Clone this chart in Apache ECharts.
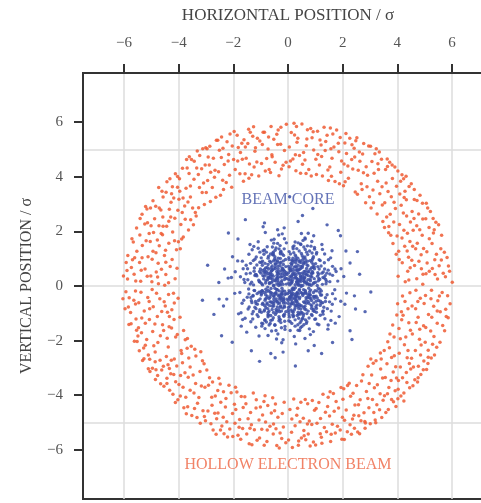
<!DOCTYPE html>
<html>
<head>
<meta charset="utf-8">
<script src="https://cdn.jsdelivr.net/npm/echarts@6/dist/echarts.min.js"></script>
<style>html,body{margin:0;padding:0;background:#fff}#c{width:481px;height:503px}</style>
</head>
<body>
<div id="c"></div>
<script>
// tick values
const xTicks = [-6, -4, -2, 0, 2, 4, 6];
const yTicks = [-6, -4, -2, 0, 2, 4, 6];
const xGridValues = [-6, -4, -2, 0, 2, 4, 6];
const yGridValues = [-5, 0, 5];
const labelTexts = ['BEAM CORE', 'HOLLOW ELECTRON BEAM'];

// hollow electron beam particles (x, y pairs, in sigma)
const hollowXY = [
0.04,4.37,0.12,5.62,0.27,4.81,0.33,5.26,0.46,4.13,0.18,4.65,0.31,5.84,0.05,5.09,0.24,5.53,0.42,4.78,0.29,4.22,
0.07,-4.52,0.13,-5.36,0.21,-4.14,0.38,-5.83,0.44,-4.97,0.16,-5.91,0.35,-4.48,0.02,-5.64,0.26,-5.12,0.49,-5.57,0.32,-4.73,
0.53,4.46,0.67,5.14,0.71,5.72,0.85,4.03,0.94,4.98,0.62,4.61,0.88,5.43,0.51,5.93,0.76,4.27,0.92,5.65,0.69,5.38,
0.56,-4.84,0.63,-4.16,0.74,-5.42,0.81,-5.86,0.97,-4.55,0.58,-5.29,0.72,-4.31,0.87,-5.07,0.93,-5.71,0.65,-5.63,0.78,-4.94,
1.04,4.08,1.17,5.35,1.23,4.74,1.32,5.81,1.46,4.25,1.08,5.67,1.21,5.16,1.43,5.52,1.15,4.43,1.36,4.96,1.02,4.64,1.48,3.86,
1.06,-5.03,1.13,-4.27,1.24,-5.76,1.37,-4.62,1.41,-5.34,1.01,-5.82,1.28,-3.96,1.33,-5.18,1.19,-4.85,1.45,-4.41,1.22,-5.54,
1.53,4.36,1.64,5.57,1.72,3.83,1.86,4.92,1.91,5.44,1.57,5.03,1.78,5.71,1.93,4.17,1.61,4.68,1.84,5.23,1.55,5.79,1.88,3.74,
1.52,-4.76,1.66,-3.94,1.73,-5.38,1.85,-4.47,1.97,-5.61,1.58,-5.43,1.62,-5.06,1.81,-5.14,1.94,-3.72,1.76,-4.23,1.54,-3.87,1.99,-4.81,
2.03,3.67,2.14,4.85,2.26,5.41,2.37,4.28,2.42,5.04,2.08,5.24,2.21,3.95,2.46,3.44,2.12,5.58,2.33,4.63,2.05,4.47,2.48,5.32,
2.01,-4.15,2.17,-5.34,2.24,-3.56,2.36,-4.87,2.43,-5.21,2.06,-5.62,2.13,-4.54,2.38,-3.93,2.45,-4.36,2.27,-5.08,2.04,-3.76,2.32,-5.43,2.18,-3.64,
2.54,3.36,2.63,4.57,2.77,5.22,2.84,3.05,2.91,4.06,2.52,5.43,2.68,3.74,2.73,4.83,2.86,4.37,2.95,5.13,2.57,4.24,2.71,3.53,2.98,3.27,
2.51,-3.64,2.67,-4.93,2.74,-3.25,2.82,-5.21,2.96,-4.46,2.55,-5.35,2.64,-4.17,2.78,-4.64,2.87,-3.86,2.93,-2.94,2.59,-4.75,2.62,-5.41,2.81,-4.96,2.97,-3.57,
3.04,2.86,3.15,4.13,3.23,5.03,3.36,3.38,3.42,4.64,3.07,4.56,3.13,3.05,3.28,3.84,3.34,4.91,3.47,2.36,3.02,5.12,3.26,2.64,3.31,4.27,3.44,3.63,3.18,4.84,
3.06,-3.26,3.14,-4.63,3.22,-2.74,3.37,-3.95,3.43,-4.82,3.01,-5.04,3.16,-3.73,3.25,-4.35,3.38,-2.45,3.46,-3.37,3.09,-4.16,3.21,-5.01,3.35,-4.53,3.41,-2.67,3.12,-2.83,
3.53,2.14,3.66,3.46,3.72,4.53,3.84,1.56,3.93,2.84,3.57,4.27,3.61,2.53,3.76,1.86,3.82,3.94,3.96,1.16,3.54,3.05,3.63,4.65,3.78,3.27,3.87,2.34,3.91,4.36,3.68,1.95,3.81,4.43,3.97,3.65,3.74,2.63,
3.52,-2.36,3.64,-3.95,3.73,-1.76,3.86,-4.24,3.94,-2.96,3.58,-4.63,3.62,-2.85,3.77,-3.46,3.83,-1.43,3.92,-3.84,3.56,-3.35,3.67,-4.52,3.71,-2.26,3.85,-3.15,3.98,-1.06,3.65,-2.04,3.89,-2.55,3.95,-4.41,3.79,-4.16,
4.03,0.36,4.16,-1.24,4.22,2.67,4.35,-3.53,4.41,1.05,4.07,-2.46,4.12,3.84,4.28,-0.57,4.37,1.93,4.44,-2.84,
4.02,4.21,4.18,0.85,4.24,-3.92,4.33,3.16,4.46,-0.25,4.06,-1.56,4.13,-4.03,4.27,1.46,4.31,-1.87,4.43,3.64,
4.08,2.25,4.11,-2.97,4.23,3.93,4.38,0.54,4.45,-3.73,4.04,-3.46,4.17,1.76,4.26,-2.15,4.32,4.02,4.48,2.34,
4.01,-0.65,4.14,2.96,4.29,0.16,4.36,-2.63,4.42,-1.35,4.09,3.37,4.15,-0.94,4.21,-1.07,4.34,2.56,4.47,0.67,
4.05,1.27,4.19,-3.36,4.25,3.24,4.39,-0.83,4.49,-3.04,4.02,-4.13,4.24,-4.21,
4.53,0.94,4.66,-2.36,4.72,3.13,4.84,-0.45,4.91,1.86,4.57,-3.65,4.61,2.47,4.76,-1.14,4.83,3.32,4.97,-2.75,
4.51,3.74,4.68,-0.16,4.73,1.57,4.86,-3.24,4.94,0.43,4.55,-1.76,4.62,3.53,4.77,-2.94,4.82,2.06,4.96,-1.46,
4.58,2.04,4.64,-3.43,4.71,0.27,4.87,1.14,4.92,3.03,4.54,-0.73,4.67,1.36,4.74,-3.52,4.81,-1.95,4.98,-0.64,
4.52,-2.65,4.63,0.75,4.78,2.64,4.85,-2.53,4.93,2.45,4.56,1.46,4.69,-1.34,4.75,-0.57,4.88,0.63,4.95,-3.07,
5.03,-0.35,5.16,2.14,5.22,-1.65,5.37,0.96,5.44,-2.24,5.06,3.03,5.12,-2.84,5.27,1.56,5.33,-0.74,5.41,2.33,
5.08,1.25,5.14,-1.04,5.21,2.73,5.36,-2.53,5.47,0.26,5.02,-2.06,5.17,0.54,5.25,-0.16,5.32,1.94,5.46,-1.36,
5.04,2.46,5.13,-2.35,5.28,0.64,5.34,-1.85,5.43,1.16,5.07,-3.06,5.11,2.86,5.24,-2.64,5.31,2.47,5.48,-0.54,
5.05,0.45,5.26,-1.14,
5.53,0.74,5.66,-1.45,5.72,1.24,5.84,-0.36,5.91,0.54,5.56,-2.06,5.62,1.86,5.77,-0.85,5.82,1.04,5.51,2.24,
5.64,-0.24,5.73,-1.64,5.86,-1.16,5.93,-0.65,5.57,-0.94,5.61,0.95,5.76,0.34,6.01,0.14,
-0.13,4.96,-0.24,4.28,-0.36,5.71,-0.47,4.53,-0.52,5.37,-0.06,5.92,-0.27,5.19,-0.33,4.04,-0.41,5.56,-0.58,4.73,-0.18,4.42,
-0.14,-4.26,-0.23,-5.58,-0.37,-4.81,-0.44,-5.23,-0.56,-4.09,-0.08,-5.74,-0.21,-4.67,-0.32,-5.93,-0.46,-4.32,-0.53,-5.05,-0.29,-5.38,
-0.64,4.16,-0.73,5.02,-0.86,5.63,-0.97,4.49,-1.03,5.31,-0.62,5.84,-0.78,4.67,-0.83,4.21,-0.94,5.18,-1.07,4.03,-0.71,5.46,
-0.66,-5.14,-0.74,-4.38,-0.87,-5.83,-0.93,-4.72,-1.04,-5.57,-0.61,-4.65,-0.77,-5.69,-0.84,-4.02,-0.96,-5.25,-1.01,-4.43,-0.82,-4.98,
-1.14,4.54,-1.26,5.83,-1.33,4.07,-1.47,5.22,-1.53,4.68,-1.12,5.41,-1.24,4.36,-1.38,5.63,-1.43,3.95,-1.56,5.09,-1.21,4.93,-1.44,5.74,
-1.16,-4.17,-1.23,-5.26,-1.37,-4.63,-1.42,-5.78,-1.54,-4.31,-1.13,-5.65,-1.27,-3.92,-1.34,-5.08,-1.46,-4.86,-1.51,-5.42,-1.32,-5.81,
-1.63,3.84,-1.74,4.89,-1.86,5.52,-1.93,4.27,-2.04,5.13,-1.61,5.36,-1.76,4.11,-1.84,4.58,-1.97,5.66,-2.06,3.62,-1.67,4.64,-1.82,5.07,
-1.64,-4.45,-1.73,-5.61,-1.87,-3.88,-1.94,-5.03,-2.03,-4.67,-1.66,-5.22,-1.71,-4.05,-1.83,-5.47,-1.96,-4.33,-2.02,-5.51,-1.77,-4.89,-1.92,-3.71,
-2.14,4.06,-2.23,5.28,-2.36,3.53,-2.44,4.71,-2.57,5.34,-2.12,5.57,-2.26,3.79,-2.33,4.45,-2.47,3.32,-2.54,4.18,-2.17,4.82,-2.38,5.04,-2.43,5.46,
-2.16,-3.63,-2.24,-4.97,-2.34,-5.41,-2.46,-4.26,-2.53,-3.38,-2.13,-5.24,-2.27,-4.12,-2.36,-3.87,-2.42,-5.13,-2.56,-4.65,-2.21,-5.53,-2.48,-3.59,
-2.64,3.25,-2.73,4.68,-2.86,5.12,-2.94,3.86,-3.03,4.43,-2.62,5.34,-2.77,3.61,-2.83,4.17,-2.96,5.03,-3.06,2.98,-2.67,4.24,-2.84,3.09,-2.92,4.72,-3.01,5.06,
-2.66,-4.03,-2.74,-5.27,-2.87,-3.36,-2.93,-4.58,-3.04,-3.71,-2.61,-4.86,-2.76,-3.52,-2.82,-5.04,-2.97,-3.08,-3.02,-4.93,-2.63,-5.43,-2.78,-4.37,-3.07,-2.85,
-3.14,3.42,-3.23,4.78,-3.36,2.56,-3.44,3.91,-3.53,4.63,-3.12,5.03,-3.27,2.87,-3.34,4.32,-3.46,2.24,-3.57,3.26,-3.16,4.29,-3.24,3.61,-3.32,4.94,-3.43,4.57,-3.56,2.43,
-3.13,-2.74,-3.26,-4.08,-3.33,-4.82,-3.47,-3.26,-3.54,-2.21,-3.11,-4.57,-3.22,-3.13,-3.37,-2.56,-3.42,-4.49,-3.58,-3.82,-3.17,-3.66,-3.21,-5.03,-3.38,-3.57,-3.41,-2.32,-3.52,-4.74,
-3.64,2.05,-3.73,3.58,-3.86,4.31,-3.94,1.36,-4.03,2.77,-3.62,4.12,-3.76,2.44,-3.83,1.79,-3.97,3.93,-4.06,0.65,-3.66,3.08,-3.71,4.63,-3.84,3.22,-3.92,2.25,-4.04,4.01,-3.61,4.73,-3.87,2.69,-3.96,3.47,-4.01,1.62,
-3.63,-2.64,-3.74,-4.07,-3.82,-1.63,-3.93,-3.28,-4.02,-0.45,-3.67,-4.42,-3.76,-1.97,-3.84,-3.71,-3.91,-2.36,-4.07,-2.93,-3.65,-3.34,-3.72,-4.68,-3.86,-2.81,-3.95,-1.14,-4.03,-4.17,-3.68,-1.92,-3.81,-4.46,-3.94,-4.03,-4.05,-1.78,
-4.13,0.27,-4.26,-1.54,-4.34,2.81,-4.43,-3.38,-4.52,1.12,-4.16,-2.67,-4.23,3.63,-4.37,-0.31,-4.44,2.19,-4.56,-2.94,
-4.12,4.11,-4.24,0.97,-4.33,-3.82,-4.46,3.43,-4.53,-0.58,-4.17,-1.23,-4.21,-3.96,-4.36,1.57,-4.42,-1.91,-4.57,3.26,
-4.14,2.48,-4.27,-2.72,-4.32,3.93,-4.47,0.42,-4.54,-3.67,-4.11,-3.51,-4.22,1.98,-4.38,-2.23,-4.41,-0.96,-4.58,2.53,
-4.16,-0.62,-4.28,3.07,-4.31,0.71,-4.45,-2.58,-4.51,0.03,-4.18,3.22,-4.25,-0.87,-4.35,-1.49,-4.48,1.31,-4.55,-1.63,
-4.15,1.66,-4.29,-3.21,-4.36,2.37,-4.43,3.82,-4.59,1.88,-4.12,-4.27,-4.34,-3.02,
-4.63,0.61,-4.76,-2.07,-4.84,2.92,-4.93,-0.76,-5.04,1.63,-4.66,-3.58,-4.72,2.21,-4.87,-1.39,-4.94,3.12,-5.06,-2.68,
-4.61,3.47,-4.74,0.08,-4.83,1.22,-4.96,-3.01,-5.02,0.37,-4.67,-1.82,-4.73,3.61,-4.86,-2.77,-4.92,1.96,-5.07,-1.23,
-4.64,1.92,-4.77,-3.28,-4.82,0.51,-4.97,0.98,-5.03,2.86,-4.62,-0.93,-4.71,1.47,-4.85,-3.42,-4.91,-2.19,-5.08,-0.57,
-4.68,-2.72,-4.75,0.83,-4.88,2.46,-4.95,-1.67,-5.01,2.21,-4.65,2.78,-4.78,-1.12,-4.81,-0.27,-4.98,0.16,-5.05,-3.13,
-5.13,-0.42,-5.24,2.27,-5.36,-1.71,-5.43,0.86,-5.52,-2.03,-5.16,2.82,-5.27,-2.66,-5.33,1.48,-5.46,-0.61,-5.54,2.12,
-5.12,1.07,-5.26,-0.92,-5.34,2.63,-5.44,-2.37,-5.57,0.18,-5.17,-1.96,-5.23,0.62,-5.38,-0.23,-5.42,1.87,-5.56,-1.21,
-5.14,2.32,-5.22,-2.17,-5.37,0.58,-5.47,-1.53,-5.53,1.27,-5.11,-3.03,-5.21,2.91,-5.32,-2.73,-5.41,2.47,-5.58,-0.66,
-5.15,0.36,-5.35,-1.17,
-5.63,0.43,-5.74,-1.38,-5.86,1.12,-5.93,-0.21,-6.02,0.37,-5.62,-2.02,-5.71,1.73,-5.84,-0.77,-5.92,0.86,-5.66,1.61,
-5.64,-0.52,-5.76,-0.97,-5.82,-1.41,-5.96,-0.83,-5.73,0.68,-5.61,1.03,-5.87,0.26,-6.04,-0.47,
0.09,4.58,0.36,5.41,0.22,5.96,0.47,-4.26,0.14,-4.87,0.39,-5.68,
0.57,4.89,0.83,5.77,0.66,4.12,0.59,-5.48,0.89,-4.19,0.71,-5.05,
1.09,4.82,1.38,5.29,1.26,4.03,1.18,-5.41,1.47,-4.07,1.03,-4.49,
1.68,5.09,1.96,4.58,1.59,4.02,1.69,-4.59,1.91,-5.27,1.56,-5.69,
2.19,4.39,2.44,4.72,2.09,3.82,2.29,-4.04,2.41,-4.73,2.07,-4.92,2.34,5.17,
2.61,4.91,2.89,3.63,2.76,4.15,2.69,-3.48,2.92,-4.12,2.58,-4.35,2.83,-5.02,
3.11,3.52,3.29,4.48,3.45,2.97,3.19,-4.91,3.39,-3.04,3.27,-3.62,3.03,-2.67,3.48,-4.18,
3.59,3.77,3.69,2.18,3.88,3.07,3.99,1.83,3.64,4.38,3.53,-4.02,3.79,-2.62,3.88,-1.87,3.69,-3.72,3.97,-3.37,
4.07,0.97,4.19,-0.37,4.28,3.47,4.39,-2.36,4.46,1.63,4.11,-1.93,4.24,2.04,4.33,-3.17,4.42,0.22,4.03,-3.78,4.17,4.07,4.36,1.28,4.48,-1.62,
4.54,2.73,4.67,-0.83,4.79,0.91,4.87,-2.16,4.96,1.37,4.59,-2.97,4.71,2.21,4.82,-1.58,4.93,0.06,4.62,3.17,4.76,-3.36,
5.04,-1.52,5.17,1.73,5.29,-2.13,5.38,0.42,5.46,-0.92,5.09,0.84,5.23,-0.47,5.35,2.06,5.13,-2.61,
5.54,-0.37,5.68,0.47,5.79,-1.12,5.59,1.36,5.87,0.73,
-0.07,4.53,-0.38,5.18,-0.26,5.81,-0.49,-4.57,-0.17,-5.16,-0.41,-5.84,
-0.59,4.81,-0.91,5.63,-0.69,4.27,-0.54,-5.42,-0.88,-4.23,-0.76,-5.27,
-1.19,5.06,-1.41,4.47,-1.29,5.48,-1.17,-4.47,-1.39,-5.21,-1.06,-4.91,
-1.69,5.23,-1.99,4.63,-1.57,4.11,-1.79,-5.17,-1.91,-4.52,-1.58,-4.06,
-2.19,4.58,-2.39,3.87,-2.51,4.97,-2.29,-4.43,-2.47,-5.27,-2.08,-3.91,-2.37,-4.81,
-2.69,3.98,-2.88,4.43,-2.99,3.42,-2.68,-4.66,-2.91,-3.63,-2.79,-4.07,-2.57,-3.83,
-3.09,3.77,-3.28,4.08,-3.49,2.86,-3.19,-2.41,-3.31,-4.29,-3.44,-3.92,-3.06,-4.78,-3.39,2.69,
-3.57,3.66,-3.78,2.93,-3.89,1.72,-3.99,3.18,-3.69,4.32,-3.58,-2.97,-3.77,-3.18,-3.89,-2.47,-3.99,-3.61,-3.69,-2.28,
-4.08,1.33,-4.19,-0.27,-4.29,2.53,-4.39,-2.88,-4.47,0.87,-4.11,-1.87,-4.26,3.38,-4.34,-1.12,-4.43,-3.57,-4.04,3.62,-4.18,-3.24,-4.37,0.12,-4.49,-0.73,
-4.57,2.19,-4.69,-0.47,-4.78,1.68,-4.86,-2.42,-4.97,-0.13,-4.59,-1.42,-4.71,2.86,-4.83,-3.07,-4.94,1.27,-4.62,-3.08,-4.77,0.33,
-5.06,-0.83,-5.19,1.66,-5.28,-2.27,-5.39,0.17,-5.49,-1.83,-5.08,1.92,-5.22,-1.36,-5.34,1.03,-5.11,-2.53,
-5.58,-0.18,-5.69,0.96,-5.81,-0.43,-5.54,-1.62,-5.89,0.57
];

// beam core particles (x, y pairs, in sigma)
const coreXY = [
0.33,-0.26,-0.78,0.52,1.11,0.19,-0.26,-1.34,0.64,0.87,-1.49,-0.41,0.02,0.48,0.97,-0.93,-0.55,1.20,0.20,-0.65,
-0.18,0.06,1.63,0.72,-0.81,-0.79,0.46,1.54,-1.14,0.37,0.79,-0.31,-0.32,-0.18,0.17,0.93,1.35,-1.20,-0.60,-1.65,
0.58,0.26,-1.84,0.92,0.21,-1.09,-0.46,0.64,1.04,1.17,-0.99,-0.21,0.82,-1.78,-0.27,0.33,0.35,-0.40,-1.25,1.45,
1.93,-0.56,-0.68,0.12,0.01,-0.89,0.66,0.44,-0.34,1.87,1.29,0.51,-1.57,-1.18,0.42,-0.13,-0.15,-0.50,0.97,1.35,
-0.73,-1.06,0.28,0.72,-2.19,0.29,1.44,-0.83,-0.47,-0.30,0.51,-1.48,-1.03,0.87,0.16,0.21,0.74,1.93,-0.52,-0.65,
0.36,1.02,-0.87,0.49,1.71,-0.14,-0.23,-2.08,0.85,0.03,-1.38,0.07,0.49,-0.72,-0.61,1.68,1.19,-0.56,0.04,1.26,
-0.96,-1.47,0.63,-0.25,-0.17,0.59,2.27,0.84,-0.53,0.01,0.39,-1.18,-1.64,0.63,1.08,0.36,-0.31,-0.94,0.55,1.67,
-1.17,-0.64,0.14,-0.32,0.92,0.68,-0.48,1.07,1.56,1.03,-0.72,-0.16,0.23,-1.85,-2.36,-0.73,0.67,0.15,-0.29,0.84,
0.45,0.37,-1.06,-1.83,1.38,0.24,-0.69,-0.46,0.03,-1.27,0.86,-1.04,-1.43,1.16,0.57,-0.58,-0.35,0.14,1.24,1.52,
-0.83,1.96,0.76,-0.63,-0.12,-0.77,1.87,-1.12,-1.28,-0.35,0.34,0.57,-0.54,-1.16,0.96,0.27,-1.72,-0.98,0.18,1.43,
0.26,0.05,-0.94,0.76,1.07,-1.39,-0.21,-0.28,0.68,1.24,-1.36,-1.31,0.47,0.86,-0.75,0.23,1.42,0.47,0.06,-0.42,
-0.44,-0.86,0.81,0.93,-1.95,-0.27,0.37,-0.96,-0.67,0.91,1.16,-0.24,-0.13,1.73,0.52,0.68,-1.08,-0.53,0.78,-1.57,
-0.36,0.43,1.62,-0.67,0.15,-0.11,-0.85,-1.26,0.94,1.84,-1.53,0.45,0.27,1.13,-0.57,-0.27,1.33,0.85,-0.24,-1.53,
0.61,-0.84,-1.16,1.06,0.05,0.63,1.02,-0.76,-0.74,-0.83,0.48,0.17,-0.37,-1.76,2.04,0.35,-0.96,0.08,0.32,1.37,
-1.23,0.66,0.54,-0.35,-0.43,0.27,1.27,-0.94,-0.16,-1.07,0.73,0.74,-1.62,-0.52,0.13,-0.66,0.84,1.46,-0.65,-1.37,
0.27,-0.57,-0.86,1.32,1.53,0.16,-0.27,0.04,0.43,-1.63,-1.37,0.83,0.96,-0.45,-0.58,0.73,0.07,0.34,1.14,0.96,
-0.76,-0.37,0.35,0.25,-2.03,1.07,0.64,-1.24,-0.38,1.56,1.47,-1.43,-1.05,0.16,0.12,-0.27,0.56,1.04,-0.43,-0.56,
0.83,-0.15,-0.97,-0.96,0.25,0.46,-0.14,2.13,1.76,0.53,-0.63,0.36,0.44,-1.35,-1.46,-0.84,1.05,1.23,0.03,-0.97,
-0.56,1.14,0.74,0.38,-1.13,-1.05,0.36,-0.74,-0.25,0.56,1.26,0.06,-0.84,-1.56,0.53,0.95,-1.74,0.34,0.93,-0.85,
0.14,0.16,-0.46,-1.04,1.34,1.17,-1.04,0.53,0.66,-0.43,-0.36,-0.64,2.43,-0.36,0.04,0.97,-0.76,1.44,0.47,-0.24,
-1.22,-0.17,0.89,0.53,-0.11,-1.48,0.54,0.02,-0.93,0.91,1.18,-1.07,0.26,1.61,-0.67,-0.72,1.63,0.39,-1.51,-1.69,
0.38,-1.03,-0.29,0.74,0.91,0.48,-1.32,-0.61,0.07,-0.39,0.72,1.15,-0.58,0.41,1.94,0.63,-0.83,-0.47,0.49,1.92,
-0.31,-0.48,1.03,-0.37,-1.81,-1.02,0.68,0.64,-0.19,-0.81,0.22,0.89,-1.09,1.62,1.37,-0.43,-0.42,-1.94,0.84,-0.69,
-0.71,0.62,0.19,-1.13,1.58,-0.92,-0.28,1.01,0.52,0.47,-1.13,-0.28,0.31,-0.53,-0.68,0.09,1.21,0.73,-2.24,-0.48,
0.09,0.57,0.98,-1.22,-0.53,-0.97,0.41,1.28,-1.47,0.23,0.71,-0.29,-0.38,0.92,1.13,0.28,-0.92,-0.63,0.27,-0.38,
-0.12,-0.19,1.82,0.18,-0.84,0.53,0.51,-0.98,-1.29,-1.21,0.33,0.67,-0.47,1.31,1.01,0.82,-0.63,-1.08,0.62,-1.92,
-1.02,-0.47,0.28,0.32,0.87,1.63,-0.33,-0.38,1.43,-0.32,-1.67,0.91,0.11,0.08,-0.73,-1.13,0.61,0.29,-0.21,1.91,
1.27,-0.61,-0.59,0.58,0.42,-0.47,-1.31,1.33,0.93,1.07,-0.17,-0.62,0.08,-1.63,1.61,1.29,-0.82,0.11,0.38,0.03,
-0.47,0.81,0.77,-1.17,-1.19,0.42,0.23,-0.88,1.07,0.02,-0.62,-0.58,0.58,1.43,-1.93,0.52,0.82,-0.33,-0.28,-1.23,
0.17,0.61,-0.98,-0.33,1.31,-0.78,-0.37,0.22,0.63,0.98,-1.42,-0.77,0.48,-1.28,-0.73,1.02,1.12,0.43,0.01,-0.53,
2.62,0.43,-2.71,-1.04,0.53,2.58,-0.47,-2.63,1.92,1.84,-1.83,1.72,2.27,-1.64,-1.34,-2.37,3.03,-0.22,-2.94,0.76,
0.91,2.84,1.23,-2.47,-0.86,2.31,2.54,1.26,-2.43,-1.82,0.27,-2.93,-1.04,-2.76,1.63,-2.07,-2.18,1.94,0.06,3.27,
0.32,0.94,-0.27,-0.73,0.78,0.07,-1.03,1.24,1.52,-0.58,-0.54,0.36,0.14,-1.37,0.96,0.71,-1.27,-0.93,0.43,0.46,
-0.64,1.17,1.13,-1.42,-0.39,-0.14,0.62,1.76,-1.58,0.13,0.24,-0.47,-0.96,-1.36,1.34,0.62,0.03,0.24,-0.48,-1.44,
0.87,-0.73,-1.76,-0.24,0.59,0.53,-0.14,1.36,1.04,-0.96,-0.76,-0.67,0.37,1.58,-1.14,0.77,1.73,-0.47,-0.24,-0.28,
0.46,-1.53,-0.84,0.83,1.26,1.34,-0.57,-1.24,0.13,0.76,-1.34,-0.54,0.74,-0.57,-0.36,0.63,2.14,-0.26,0.04,-1.06,
-0.92,0.38,0.69,-1.01,-0.21,1.17,0.95,0.12,-1.66,-1.23,0.38,-0.29,-0.51,1.71,1.48,0.96,-0.79,-0.21,0.57,-0.78,
-1.03,-0.87,0.29,1.06,1.17,-0.12,-0.41,0.07,0.88,1.21,-1.21,0.98,0.02,-0.79,0.61,0.32,-0.18,-1.97,1.57,-1.26,
-0.63,0.28,0.47,0.72,-1.44,-0.11,1.03,-0.56,-0.32,-1.19,0.71,1.47,-0.87,-0.92,0.16,0.43,1.39,0.08,-0.52,1.57,
0.22,-0.13,-1.18,-1.51,0.93,-1.67,-0.27,0.44,0.58,0.86,-0.91,1.29,1.28,0.31,-0.43,-0.47,0.36,-1.42,-1.53,0.76,
0.13,0.37,-0.34,0.02,0.67,-0.63,-0.72,0.46,0.44,0.21,-0.16,-0.43,0.87,0.34,-0.53,-0.36,0.28,0.58,-0.94,-0.17,
0.03,0.11,0.57,-0.14,-0.41,0.53,0.32,-0.36,-0.24,-0.92,0.76,0.52,-0.62,0.67,1.06,-0.18,-0.84,-0.52,0.11,0.83,
-0.36,0.32,0.93,-0.24,-1.07,0.21,0.26,-0.72,0.62,1.06,-0.57,-0.74,0.47,0.03,-0.13,0.24,1.14,0.62,-0.73,-0.97,
0.34,-0.63,-0.22,0.66,0.86,-0.82,-1.26,0.04,0.05,-0.23,0.53,0.36,-0.63,-0.24,1.23,-0.33,-0.46,0.94,0.72,-0.43,
2.82,-0.94,-2.53,0.13,1.43,2.24,-1.56,2.43,2.34,-1.96,-0.63,-2.47,1.84,2.03,-2.04,-2.06,0.74,-2.37,-3.13,-0.52,
0.12,-0.34,-0.45,0.18,0.71,0.09,-0.08,0.71,0.39,-0.82,-0.66,-0.41,0.24,0.29,-0.31,-0.62,0.58,0.44,-0.89,0.26,
0.97,-0.38,-0.19,-0.17,0.43,0.93,-0.71,1.09,0.16,-0.58,-1.12,-0.67,0.81,0.61,-0.38,0.47,0.05,-1.14,1.18,-0.71,
-0.52,0.03,0.33,0.14,-0.26,1.27,0.64,-0.21,-0.97,-0.28,0.21,1.22,-0.11,-0.31,0.88,-1.08,-0.63,0.86,0.47,-0.96,
-0.04,0.42,0.73,0.23,-0.84,-1.23,0.19,-0.07,1.09,0.49,-0.42,-0.13,0.52,1.11,-1.21,0.38,0.31,-0.29,-0.17,0.92,
0.66,-0.52,-0.58,-0.86,0.09,0.66,-0.93,0.57,1.22,-0.18,-0.24,-0.53,0.42,0.61,-0.74,-0.04,0.87,0.87,-0.33,1.36,
0.26,-1.24,-1.01,0.62,0.59,0.17,-0.07,-0.28,0.94,-0.62,-0.49,0.99,0.18,0.52,-0.79,-1.32,1.36,0.38,-0.14,-0.73,
0.48,-0.02,-0.37,0.73,0.79,1.28,-0.62,-0.09,0.11,-0.88,-1.09,1.38,0.67,-1.37,-0.23,0.19,0.37,0.76,-0.86,-0.71,
1.01,0.14,-0.15,-1.11,0.29,0.39,-0.53,0.62,0.83,-0.46,-1.33,0.14,0.03,1.04,-0.44,-0.24,0.63,-0.16,-0.69,0.31,
0.17,-0.44,-0.28,1.18,1.12,-0.53,-0.81,0.19,0.46,0.27,-0.06,0.07,0.74,-0.92,-0.52,-0.57,0.22,1.47,-1.17,-0.83,
0.57,0.81,-0.39,-0.77,0.06,-0.46,0.91,1.02,-0.66,0.42,0.34,-1.08,-1.24,-0.16,0.78,0.04,-0.18,0.58,0.41,-0.67,
-0.73,0.79,1.29,-0.91,-0.09,0.29,0.61,-0.27,-0.48,-1.42,0.15,0.82,-0.95,-0.18,0.86,0.46,-0.29,-0.33,0.02,-0.64,
1.47,0.58,-1.38,0.47,0.54,-1.18,-0.57,1.43,0.99,-0.17,-0.12,-1.29,0.36,0.18,-0.82,0.66,0.69,0.78,-0.41,-0.91,
0.08,0.22,-0.63,-0.33,0.44,-0.73,-0.22,0.34,0.82,0.19,-1.04,-0.94,0.27,0.96,-0.34,-0.87,1.04,-0.82,-0.07,0.49,
0.64,0.54,-0.48,0.21,0.19,-0.97,-0.88,1.16,1.16,0.24,-0.26,-0.44,0.51,-0.26,-0.61,0.54,0.09,1.17,-1.28,-0.37,
0.35,0.07,-0.17,-0.56,0.92,0.79,-0.39,0.86,0.57,-1.02,-0.77,-0.62,0.13,-0.18,-0.54,1.24,1.21,-0.63,-0.99,0.47,
0.08,0.56,-0.22,-0.08,0.47,0.33,-0.58,0.59,0.31,-0.71,-0.14,0.36,0.79,-0.43,-0.67,-0.21,0.18,1.02,-1.02,0.14,
0.54,-0.29,-0.33,-1.27,1.09,0.71,-0.81,0.43,0.12,-0.51,-0.46,0.81,0.69,-1.31,-0.09,-0.62,0.36,0.47,-1.19,-0.57,
0.92,0.08,-0.52,-0.48,0.23,0.69,-0.29,1.48,1.37,-0.57,-0.72,-1.06,0.41,-0.16,-0.04,0.27,0.63,1.34,-0.88,-0.24,
0.16,-0.93,-0.61,0.12,1.19,-0.33,-0.37,-0.33,0.49,1.19,-1.43,-0.29,0.27,-0.06,-0.19,0.63,0.86,-0.53,-0.79,1.24,
0.04,-0.17,-0.94,-0.67,0.58,0.19,-0.11,-1.59,1.53,0.44,-0.41,0.38,0.37,-1.62,-1.27,0.93,0.73,0.52,-0.06,1.58,
0.43,-0.41,-0.69,-1.43,0.97,1.41,-0.24,0.14,0.21,0.42,-1.61,0.24,0.66,-0.87,-0.48,-0.08,1.28,-1.03,-0.17,0.79,
0.29,0.84,-0.87,0.36,0.11,-0.39,-0.39,-0.57,0.81,0.26,-1.09,-1.12,0.52,-1.21,-0.53,1.14,1.41,0.17,-0.26,-0.43,
0.68,0.41,-0.13,-1.03,0.34,-0.24,-0.76,0.68,1.06,-0.69,-0.34,0.53,0.19,1.36,-1.36,-0.42,0.89,0.96,-0.01,-0.28,
0.56,-1.09,-0.57,0.26,0.14,0.13,-0.98,1.03,1.63,-0.28,-0.28,-0.78,0.46,0.64,-0.63,-1.26,0.07,-0.74,-1.48,0.63,
0.79,-0.21,-0.36,1.02,0.26,-1.47,-0.82,-0.32,1.18,0.93,-0.19,0.46,0.61,0.12,-0.44,-1.63,0.33,0.27,-1.16,0.41,
0.02,0.72,-0.66,-0.58,0.88,0.47,-0.27,1.24,0.47,-0.84,-0.86,-0.88,1.33,0.29,-0.08,-0.94,0.24,-0.33,-0.54,0.92,
0.71,0.91,-1.21,-0.78,0.39,0.06,-0.46,-0.27,1.01,-1.21,-0.71,0.28,0.17,-1.06,-0.16,1.12,0.93,-0.38,-0.92,-1.38,
1.72,0.62,-1.68,-0.63,0.63,1.72,-0.73,-1.81,1.46,-1.58,-1.39,1.52,0.28,-2.12,-2.07,0.31,2.08,-0.67,-0.38,2.06,
0.52,0.28,-0.31,0.07,0.13,-0.64,-0.64,0.48,0.76,-0.08,-0.18,-0.49,0.42,0.89,-0.93,0.04,0.28,-0.46,-0.47,0.71,
0.06,0.04,0.61,-0.61,-0.52,-0.73,0.38,0.58,-0.09,0.97,0.83,0.36,-0.78,-0.44,0.19,-0.27,-0.39,0.29,1.07,-0.44,
-0.23,-0.34,0.44,-1.03,-0.86,0.61,0.14,0.31,0.97,0.63,-0.57,0.17,0.26,-0.81,-1.06,-0.23,0.69,0.07,-0.33,-1.12,
0.92,-0.91,-0.12,0.54,0.53,0.73,-0.69,-0.92,0.08,-1.31,-1.24,0.54,1.24,0.47,-0.44,1.39,0.31,0.16,-0.81,-0.12,
0.18,-0.11,-0.26,0.87,0.74,-0.37,-0.51,-0.39,0.47,1.52,-0.97,0.86,1.11,-0.08,-0.04,-0.48,0.58,-1.42,-1.31,-1.02,
2.47,-0.84,-2.32,0.62,0.96,-2.18,-0.91,2.17,2.12,1.28,-2.52,-0.48,1.73,-1.36,-1.71,-1.47,0.37,2.36,-0.18,-2.42,
0.41,0.16,-0.58,-0.62,0.14,0.93,-0.22,-0.22,0.86,0.67,-0.74,0.33,0.33,-0.57,-0.11,0.43,0.62,-0.74,-0.42,-0.97
];

function pairs(flat) {
  const out = [];
  for (let i = 0; i + 1 < flat.length; i += 2) out.push([flat[i], flat[i + 1]]);
  return out;
}
const minus = v => (v < 0 ? '\u2212' : '') + Math.abs(v);
const serif = "'Liberation Serif', 'DejaVu Serif', serif";

const chart = echarts.init(document.getElementById('c'), null, { renderer: 'canvas' });
chart.setOption({
  animation: false,
  backgroundColor: '#ffffff',
  grid: {
    left: 83, top: 73, width: 410, height: 426,
    outerBoundsMode: 'none', containLabel: false,
    show: true, borderColor: '#333', borderWidth: 2, backgroundColor: 'transparent'
  },
  xAxis: {
    type: 'value', position: 'top', min: -7.5, max: 7.5,
    name: 'HORIZONTAL POSITION / \u03c3', nameLocation: 'middle', nameGap: 49,
    nameTextStyle: { fontFamily: serif, fontSize: 17, color: '#444' },
    axisLine: { show: true, onZero: false, lineStyle: { color: '#333', width: 2 } },
    axisTick: { show: true, customValues: xTicks, length: 9, lineStyle: { color: '#333', width: 2 } },
    axisLabel: { customValues: xTicks, formatter: minus, margin: 22, fontFamily: serif, fontSize: 15, color: '#555' },
    splitLine: { show: false }
  },
  yAxis: {
    type: 'value', min: -7.8, max: 7.8,
    name: 'VERTICAL POSITION / \u03c3', nameLocation: 'middle', nameGap: 48,
    nameTextStyle: { fontFamily: serif, fontSize: 16, color: '#444' },
    axisLine: { show: true, onZero: false, lineStyle: { color: '#333', width: 2 } },
    axisTick: { show: true, customValues: yTicks, length: 9, lineStyle: { color: '#333', width: 2 } },
    axisLabel: { customValues: yTicks, formatter: minus, margin: 20, fontFamily: serif, fontSize: 15, color: '#555' },
    splitLine: { show: false }
  },
  series: [
    {
      type: 'line', data: [], z: 0, silent: true,
      markLine: {
        z: 0, silent: true, symbol: ['none', 'none'], animation: false,
        label: { show: false },
        lineStyle: { color: '#dcdcdc', width: 1.5, type: 'solid' },
        emphasis: { disabled: true },
        data: xGridValues.map(v => ({ xAxis: v })).concat(yGridValues.map(v => ({ yAxis: v })))
      }
    },
    {
      type: 'scatter', z: 3, symbolSize: 3.5, data: pairs(hollowXY), silent: true,
      itemStyle: { color: '#ef5b33', opacity: 0.85 }
    },
    {
      type: 'scatter', z: 4, symbolSize: 3.4, data: pairs(coreXY), silent: true,
      itemStyle: { color: '#3a4da6', opacity: 0.85 }
    },
    {
      type: 'scatter', z: 6, symbolSize: 0, silent: true,
      data: [
        { name: labelTexts[0], value: [0, 3.15], label: { color: '#3d50a5' } },
        { name: labelTexts[1], value: [0, -6.55], label: { color: '#ee6340' } }
      ],
      label: { show: true, position: 'inside', formatter: '{b}', fontFamily: serif, fontSize: 16 }
    }
  ]
});
</script>
</body>
</html>
